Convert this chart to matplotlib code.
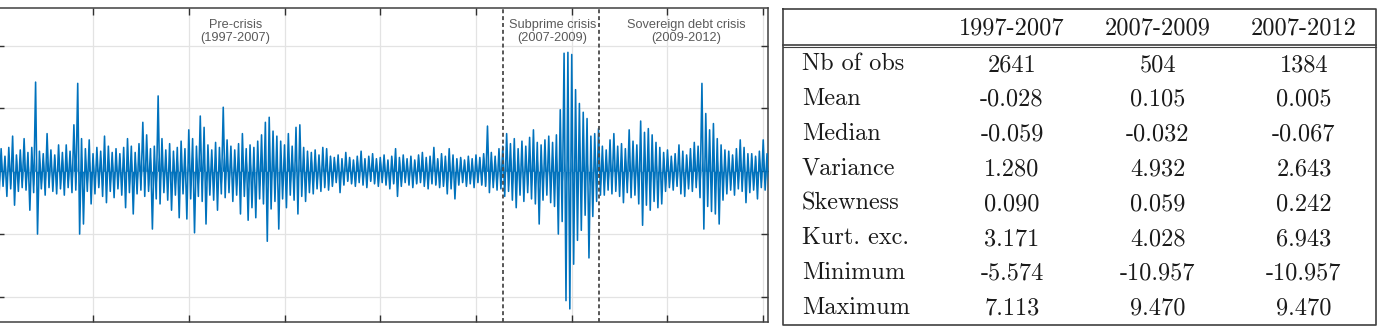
import numpy as np
import matplotlib
matplotlib.use("Agg")
import matplotlib.pyplot as plt

upper = [1.4, 1.8, 1.2, 1.9, 2.8, 1.3, 1.7, 2.6, 1.5, 1.9,
         7.1, 1.6, 1.4, 3.0, 1.7, 1.3, 2.1, 1.5, 2.1, 1.6,
         3.7, 7.0, 2.6, 1.8, 2.5, 1.4, 1.9, 1.6, 2.8, 2.0,
         1.5, 1.8, 1.4, 1.9, 2.6, 2.0, 1.5, 2.2, 3.9, 2.9,
         1.8, 2.0, 6.0, 2.6, 1.7, 2.2, 1.6, 1.9, 2.4, 1.8,
         3.3, 2.6, 2.0, 4.4, 3.5, 2.1, 1.7, 2.3, 1.9, 5.1,
         2.5, 2.0, 1.7, 2.2, 3.0, 1.8, 2.1, 1.9, 2.4, 2.9,
         3.9, 4.3, 3.2, 2.8, 2.4, 2.1, 3.0, 2.0, 3.5, 3.7,
         1.9, 1.6, 1.5, 1.7, 1.3, 1.9, 1.8, 1.2, 1.1, 1.3,
         1.0, 1.5, 1.1, 0.9, 1.2, 1.6, 1.0, 1.2, 1.4, 1.0,
         1.1, 1.3, 0.9, 1.2, 1.8, 1.1, 1.3, 1.0, 1.2, 0.9,
         1.3, 1.5, 1.1, 1.2, 1.9, 1.0, 1.4, 1.2, 1.8, 1.3,
         1.0, 1.1, 0.9, 1.2, 1.0, 1.3, 1.1, 1.4, 3.6, 1.5,
         1.2, 1.8, 2.0, 3.0, 2.2, 2.6, 1.8, 2.4, 2.0, 2.7,
         3.3, 2.3, 2.1, 2.5, 2.8, 2.3, 2.9, 4.9, 9.4, 9.47,
         9.3, 6.5, 5.4, 4.7, 4.2, 2.8, 3.0, 3.4, 2.0, 1.7,
         2.5, 3.0, 2.0, 2.2, 1.8, 3.3, 2.4, 2.1, 4.0, 3.1,
         3.4, 2.9, 2.3, 1.9, 1.5, 1.7, 1.2, 1.4, 2.1, 1.6,
         1.3, 1.8, 2.3, 2.0, 7.0, 4.6, 3.3, 3.8, 2.6, 2.1,
         1.7, 1.6, 1.3, 1.8, 2.5, 1.9, 1.4, 1.4, 1.2, 1.6,
         2.5, 1.4]
lower = [-1.6, -1.2, -2.0, -1.4, -2.7, -1.6, -1.3, -1.5, -3.1, -1.7,
         -5.0, -1.4, -1.9, -1.3, -1.6, -1.8, -1.4, -1.9, -1.3, -1.7,
         -1.5, -5.0, -4.2, -1.6, -2.6, -1.8, -1.3, -2.0, -2.5, -1.6,
         -2.1, -1.4, -1.9, -2.9, -1.7, -3.4, -1.8, -1.5, -2.0, -1.6,
         -4.6, -2.2, -2.6, -1.7, -2.3, -3.1, -1.9, -3.7, -1.8, -3.8,
         -2.2, -4.9, -2.0, -2.4, -4.2, -1.9, -2.3, -3.1, -1.8, -2.1,
         -1.7, -2.4, -1.9, -3.4, -2.0, -3.9, -2.9, -3.7, -2.2, -2.6,
         -5.574, -3.0, -2.4, -4.6, -2.2, -2.9, -1.9, -2.3, -3.4, -2.0,
         -2.4, -1.7, -1.8, -1.4, -1.6, -1.3, -1.5, -1.2, -0.9, -1.7,
         -1.1, -0.8, -1.0, -1.2, -0.9, -1.1, -1.3, -0.8, -1.0, -1.2,
         -0.9, -1.1, -1.4, -1.0, -2.0, -1.2, -0.9, -1.1, -1.3, -1.0,
         -0.9, -1.2, -1.4, -1.0, -1.1, -1.3, -1.2, -1.8, -1.4, -2.2,
         -1.1, -0.9, -1.2, -1.0, -1.3, -0.9, -1.1, -1.2, -1.7, -1.3,
         -1.5, -1.4, -2.0, -1.6, -2.3, -2.9, -1.9, -2.4, -1.7, -2.2,
         -2.6, -4.2, -2.3, -1.9, -2.5, -2.8, -5.0, -4.0, -10.3, -10.957,
         -7.4, -5.5, -4.7, -3.5, -6.9, -3.6, -2.4, -1.9, -1.9, -1.5,
         -1.8, -1.6, -2.0, -2.5, -1.7, -2.1, -1.9, -2.6, -4.3, -2.7,
         -3.1, -2.4, -2.9, -2.6, -1.6, -1.3, -1.5, -1.2, -1.8, -2.0,
         -1.4, -1.6, -1.3, -2.1, -4.6, -2.8, -3.2, -3.4, -4.2, -2.3,
         -1.8, -1.5, -1.9, -1.4, -1.6, -2.5, -1.7, -1.5, -2.2, -1.3,
         -1.5, -1.7]
block = 20
breaks = [2641, 3145]

periods = ["Pre-crisis\n(1997-2007)", "Subprime crisis\n(2007-2009)",
           "Sovereign debt crisis\n(2009-2012)"]
period_x = [1245, 2898, 3598]

col_heads = ["1997-2007", "2007-2009", "2007-2012"]
row_names = ["Nb of obs", "Mean", "Median", "Variance", "Skewness",
             "Kurt. exc.", "Minimum", "Maximum"]
stats = [["2641", "504", "1384"],
         ["-0.028", "0.105", "0.005"],
         ["-0.059", "-0.032", "-0.067"],
         ["1.280", "4.932", "2.643"],
         ["0.090", "0.059", "0.242"],
         ["3.171", "4.028", "6.943"],
         ["-5.574", "-10.957", "-10.957"],
         ["7.113", "9.470", "9.470"]]

W, H = 1380, 329
blue = "#0072BD"
fig = plt.figure(figsize=(W / 100, H / 100), dpi=100)

ax = fig.add_axes([-2.7 / W, 7 / H, 770.7 / W, 314 / H])
obs = np.arange(len(upper)) * block
xs = np.empty(2 * len(upper))
ys = np.empty(2 * len(upper))
xs[0::2] = obs
xs[1::2] = obs + block / 2
ys[0::2] = upper
ys[1::2] = lower
# the thousands of overlapping daily strokes read as a solid core band
ax.fill_between(xs, np.clip(ys, -1.2, 1.2), 0, color=blue, lw=0, zorder=3)
ax.plot(xs, ys, color=blue, lw=1.15, zorder=3)

for b in breaks:
    ax.axvline(b, color="#4a4a4a", ls=(0, (2.2, 1.6)), lw=1.3, zorder=4)

for lab, px in zip(periods, period_x):
    ax.text(px, 0.925, lab, transform=ax.get_xaxis_transform(), ha="center",
            va="center", fontsize=9.2, color="#5a5a5a", linespacing=1.05,
            family="Liberation Sans", zorder=5)

ax.set_xlim(0, 4025)
ax.set_ylim(-12, 13)
ax.set_xticks(np.arange(500, 4001, 500))
ax.set_yticks([-10, -5, 0, 5, 10])
ax.tick_params(direction="in", length=5, width=1, color="#303030",
               top=True, right=True, labelbottom=False, labelleft=False)
ax.grid(True, color="#e3e3e3", lw=0.9, zorder=0)
ax.set_axisbelow(True)
for s in ax.spines.values():
    s.set_color("#404040")
    s.set_linewidth(1.1)

# table drawn on an overlay in pixel units
tb = fig.add_axes([0, 0, 1, 1])
tb.set_xlim(0, W)
tb.set_ylim(H, 0)
tb.axis("off")
left, right, top, bottom = 783, 1376, 9, 325
tb.plot([left, right, right, left, left], [top, top, bottom, bottom, top],
        color="#404040", lw=1.2)
tb.plot([left, right], [44.5, 44.5], color="#404040", lw=1.2)
tb.plot([left, right], [47, 47], color="#404040", lw=0.8)

col_x = [1012, 1158, 1304]
font = dict(family="cmr10", fontsize=17.5, color="#1a1a1a")
for cx, h in zip(col_x, col_heads):
    tb.text(cx, 28, h, ha="center", va="center", **font)
for i, (name, vals) in enumerate(zip(row_names, stats)):
    yy = 64 + i * 34.8
    tb.text(802, yy, name, ha="left", va="center", **font)
    for cx, v in zip(col_x, vals):
        tb.text(cx, yy + 1, v, ha="center", va="center", **font)

fig.savefig("out.png", dpi=100)
